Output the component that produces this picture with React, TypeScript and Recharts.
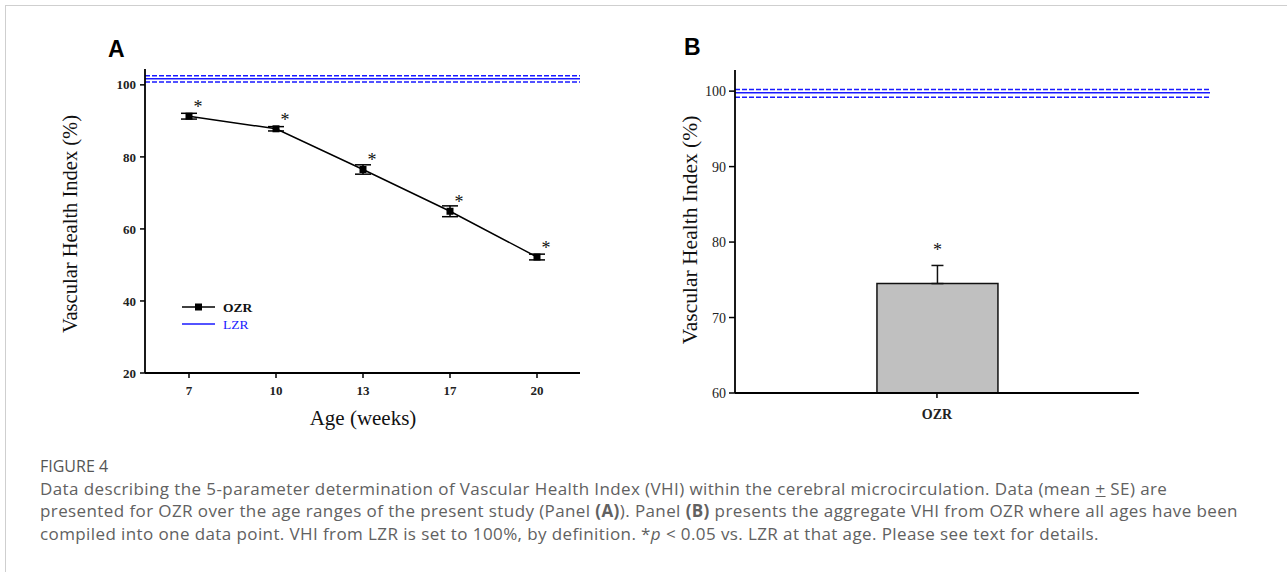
import React from 'react';
import {
  ComposedChart, Line, Bar, XAxis, YAxis, ReferenceLine, ErrorBar, LabelList,
} from 'recharts';

// ---- Panel A data ----
const ages = ['7', '10', '13', '17', '20'];
const ozrMean = [91.3, 87.8, 76.5, 64.9, 52.2];
const ozrSE = [0.8, 0.6, 1.3, 1.5, 0.8];
const lzrLinesA = [102.5, 101.7, 100.8]; // upper SE, mean, lower SE
const yTicksA = [20, 40, 60, 80, 100];
const yDomainA = [20, 104.4];

// ---- Panel B data ----
const aggCategories = ['OZR'];
const aggPosition = [0.5];
const aggMean = [74.5];
const aggSE = [2.4];
const lzrLinesB = [100.2, 99.8, 99.2];
const yTicksB = [60, 70, 80, 90, 100];
const yDomainB = [60, 102.8];
const xDomainB = [0, 1.176];

const legendNames = ['OZR', 'LZR'];

const dataA = ages.map((a, i) => ({ age: a, mean: ozrMean[i], se: ozrSE[i] }));
const dataB = aggCategories.map((c, i) => ({ name: c, pos: aggPosition[i], mean: aggMean[i], se: [0, aggSE[i]] }));

const BLUE = '#1a1aff';
const serif = '"Liberation Serif", "DejaVu Serif", serif';

const SquareDot = (props: any) => {
  const { cx, cy } = props;
  if (cx == null || cy == null) return null;
  return <rect x={cx - 3.5} y={cy - 3.5} width={7} height={7} fill="#000" />;
};

const StarA = (props: any) => {
  const { x, y } = props;
  return (
    <text x={x + 9} y={y - 3} textAnchor="middle" fontSize={18} fontFamily={serif} fill="#111">*</text>
  );
};

const StarB = (props: any) => {
  const { x, y, width } = props;
  return (
    <text x={x + width / 2} y={y - 28} textAnchor="middle" fontSize={18} fontFamily={serif} fill="#111">*</text>
  );
};

const tickStyleA = { fontFamily: serif, fontSize: 13, fontWeight: 'bold', fill: '#222' };
const tickStyleB = { fontFamily: serif, fontSize: 14, fill: '#222' };

export default function App() {
  return (
    <div style={{ position: 'absolute', left: 0, top: 0, width: 1287, height: 572, background: '#fff', overflow: 'hidden' }}>
      {/* frame */}
      <div style={{ position: 'absolute', left: 5, top: 5, width: 1290, height: 600, borderTop: '1.5px solid #cfcfcf', borderLeft: '1.5px solid #cfcfcf' }} />

      {/* Panel letters */}
      <div style={{ position: 'absolute', left: 108, top: 36, fontFamily: '"Liberation Sans", Arial, sans-serif', fontWeight: 'bold', fontSize: 23, color: '#000' }}>A</div>
      <div style={{ position: 'absolute', left: 684, top: 34, fontFamily: '"Liberation Sans", Arial, sans-serif', fontWeight: 'bold', fontSize: 23, color: '#000' }}>B</div>

      {/* Panel A */}
      <div style={{ position: 'absolute', left: 0, top: 0 }}>
        <ComposedChart width={640} height={440} data={dataA} margin={{ top: 69, right: 60, bottom: 37, left: 85 }}>
          <XAxis dataKey="age" type="category" padding={{ left: 44, right: 43 }} tick={tickStyleA} tickLine={{ stroke: '#000', strokeWidth: 1.5 }} tickSize={5}
            axisLine={{ stroke: '#000', strokeWidth: 1.8 }} height={30} tickMargin={8} />
          <YAxis type="number" domain={yDomainA} ticks={yTicksA} allowDataOverflow width={60} tick={tickStyleA}
            tickLine={{ stroke: '#000', strokeWidth: 1.5 }} tickSize={5} axisLine={{ stroke: '#000', strokeWidth: 1.8 }} tickMargin={4} />
          <ReferenceLine y={lzrLinesA[0]} stroke={BLUE} strokeWidth={1.5} strokeDasharray="5 2" ifOverflow="visible" />
          <ReferenceLine y={lzrLinesA[1]} stroke={BLUE} strokeWidth={1.5} ifOverflow="visible" />
          <ReferenceLine y={lzrLinesA[2]} stroke={BLUE} strokeWidth={1.5} strokeDasharray="5 2" ifOverflow="visible" />
          <Line dataKey="mean" stroke="#000" strokeWidth={1.5} dot={<SquareDot />} isAnimationActive={false} type="linear">
            <ErrorBar dataKey="se" width={8} stroke="#000" strokeWidth={1.5} direction="y" />
            <LabelList dataKey="mean" content={<StarA />} />
          </Line>
        </ComposedChart>
      </div>

      {/* Panel A legend */}
      <svg style={{ position: 'absolute', left: 175, top: 297 }} width={95} height={36}>
        <line x1={7} y1={10} x2={40} y2={10} stroke="#000" strokeWidth={1.5} />
        <rect x={20} y={6.5} width={7} height={7} fill="#000" />
        <text x={48} y={14.5} fontFamily={serif} fontSize={13.5} fontWeight="bold" fill="#111">{legendNames[0]}</text>
        <line x1={7} y1={27} x2={40} y2={27} stroke={BLUE} strokeWidth={1.5} />
        <text x={48} y={31.5} fontFamily={serif} fontSize={13.5} fill={BLUE}>{legendNames[1]}</text>
      </svg>

      {/* Panel A axis titles */}
      <div style={{ position: 'absolute', left: 70, top: 224, transform: 'translate(-50%, -50%) rotate(-90deg)', whiteSpace: 'nowrap', fontFamily: serif, fontSize: 20.5, color: '#111' }}>Vascular Health Index (%)</div>
      <div style={{ position: 'absolute', left: 363, top: 418, transform: 'translate(-50%, -50%)', whiteSpace: 'nowrap', fontFamily: serif, fontSize: 21, color: '#111' }}>Age (weeks)</div>

      {/* Panel B */}
      <div style={{ position: 'absolute', left: 640, top: 0 }}>
        <ComposedChart width={647} height={440} data={dataB} margin={{ top: 70, right: 77, bottom: 17, left: 35 }}>
          <XAxis dataKey="pos" type="number" domain={xDomainB} ticks={aggPosition} allowDataOverflow
            tickFormatter={(v: number) => aggCategories[aggPosition.indexOf(v)] ?? ''}
            tick={{ fontFamily: serif, fontSize: 14, fontWeight: 'bold', fill: '#222' }} tickLine={{ stroke: '#000', strokeWidth: 1.5 }} tickSize={5}
            axisLine={false} height={30} tickMargin={11} />
          <YAxis type="number" domain={yDomainB} ticks={yTicksB} allowDataOverflow width={60} tick={tickStyleB}
            tickLine={{ stroke: '#000', strokeWidth: 1.5 }} tickSize={6} axisLine={{ stroke: '#000', strokeWidth: 1.8 }} tickMargin={3} />
          <ReferenceLine segment={[{ x: xDomainB[0], y: yDomainB[0] }, { x: 1, y: yDomainB[0] }]} stroke="#000" strokeWidth={1.8} ifOverflow="visible" />
          <ReferenceLine y={lzrLinesB[0]} stroke={BLUE} strokeWidth={1.5} strokeDasharray="5 2" ifOverflow="visible" />
          <ReferenceLine y={lzrLinesB[1]} stroke={BLUE} strokeWidth={1.5} ifOverflow="visible" />
          <ReferenceLine y={lzrLinesB[2]} stroke={BLUE} strokeWidth={1.5} strokeDasharray="5 2" ifOverflow="visible" />
          <Bar dataKey="mean" fill="#c0c0c0" stroke="#111" strokeWidth={1.5} barSize={121} isAnimationActive={false}>
            <ErrorBar dataKey="se" width={6} stroke="#111" strokeWidth={1.5} direction="y" />
            <LabelList dataKey="mean" content={<StarB />} />
          </Bar>
        </ComposedChart>
      </div>

      <div style={{ position: 'absolute', left: 690, top: 230, transform: 'translate(-50%, -50%) rotate(-90deg)', whiteSpace: 'nowrap', fontFamily: serif, fontSize: 21.5, color: '#111' }}>Vascular Health Index (%)</div>

      {/* Caption */}
      <div style={{ position: 'absolute', left: 40, top: 455, fontFamily: '"Open Sans", "Noto Sans", sans-serif', fontSize: 17, letterSpacing: '0.4px', lineHeight: '22.5px', color: '#616161', whiteSpace: 'nowrap' }}>
        <div style={{ fontSize: 16, letterSpacing: '0px', color: '#555', fontWeight: 500 }}>FIGURE 4</div>
        <div>Data describing the 5-parameter determination of Vascular Health Index (VHI) within the cerebral microcirculation. Data (mean <u>+</u> SE) are</div>
        <div>presented for OZR over the age ranges of the present study (Panel <b>(A)</b>). Panel <b>(B)</b> presents the aggregate VHI from OZR where all ages have been</div>
        <div>compiled into one data point. VHI from LZR is set to 100%, by definition. *<i>p</i> &lt; 0.05 vs. LZR at that age. Please see text for details.</div>
      </div>
    </div>
  );
}
